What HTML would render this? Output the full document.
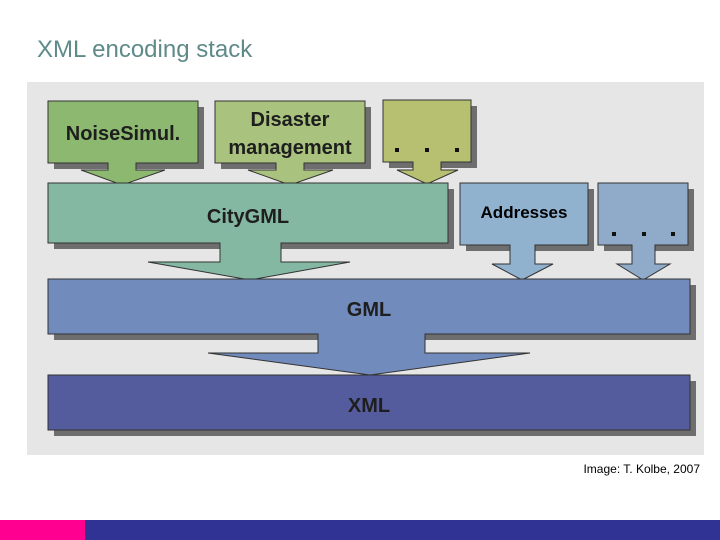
<!DOCTYPE html>
<html><head><style>
html,body{margin:0;padding:0;background:#fff;width:720px;height:540px;overflow:hidden}
</style></head><body>
<svg width="720" height="540" xmlns="http://www.w3.org/2000/svg" font-family="Liberation Sans, Arial, sans-serif">
<text x="37" y="57" font-size="24" fill="#5f8a8a">XML encoding stack</text>
<rect x="27" y="82" width="677" height="373" fill="#e6e6e6"/>
<g fill="#6e6e6e">
 <rect x="54" y="107" width="150" height="62"/>
 <rect x="221" y="107" width="150" height="62"/>
 <rect x="389" y="106" width="88" height="62"/>
 <rect x="54" y="189" width="400" height="60"/>
 <rect x="466" y="189" width="128" height="62"/>
 <rect x="604" y="189" width="90" height="62"/>
 <rect x="54" y="285" width="642" height="55"/>
 <rect x="54" y="381" width="642" height="55"/>
</g>
<g stroke="#333" stroke-width="1">
 <path d="M48,101H198V163H136V170H165L122,185L81,170H108V163H48Z" fill="#8db870"/>
 <path d="M215,101H365V163H304V170H333L290,185L248,170H276V163H215Z" fill="#a9c27e"/>
 <path d="M383,100H471V162H441V170H458L427,184L397,170H413V162H383Z" fill="#b6c070"/>
 <path d="M48,183H448V243H281V262H350L250,280L148,262H220V243H48Z" fill="#84b8a2"/>
 <path d="M460,183H588V245H535V264H553L522,280L492,264H510V245H460Z" fill="#90b2cf"/>
 <path d="M598,183H688V245H655V264H670L643,280L617,264H632V245H598Z" fill="#8fabc9"/>
 <path d="M48,279H690V334H425V353H530L370,375L208,353H318V334H48Z" fill="#728bbd"/>
 <rect x="48" y="375" width="642" height="55" fill="#555c9e"/>
</g>
<g font-weight="bold" fill="#1e1e1e" text-anchor="middle" font-size="20">
 <text x="123" y="140">NoiseSimul.</text>
 <text x="290" y="126">Disaster</text>
 <text x="290" y="154">management</text>
 <text x="248" y="223">CityGML</text>
 <text x="369" y="316">GML</text>
 <text x="369" y="412">XML</text>
</g>
<text x="524" y="218" font-size="17" font-weight="bold" text-anchor="middle" fill="#000">Addresses</text>
<g fill="#111">
 <rect x="395" y="148" width="4" height="4"/><rect x="425" y="148" width="4" height="4"/><rect x="455" y="148" width="4" height="4"/>
 <rect x="612" y="232" width="4" height="4"/><rect x="642" y="232" width="4" height="4"/><rect x="671" y="232" width="4" height="4"/>
</g>
<text x="700" y="473" font-size="12" text-anchor="end" fill="#000">Image:  T. Kolbe, 2007</text>
<rect x="0" y="520" width="85" height="20" fill="#ff0090"/>
<rect x="85" y="520" width="635" height="20" fill="#303393"/>
</svg>
</body></html>
